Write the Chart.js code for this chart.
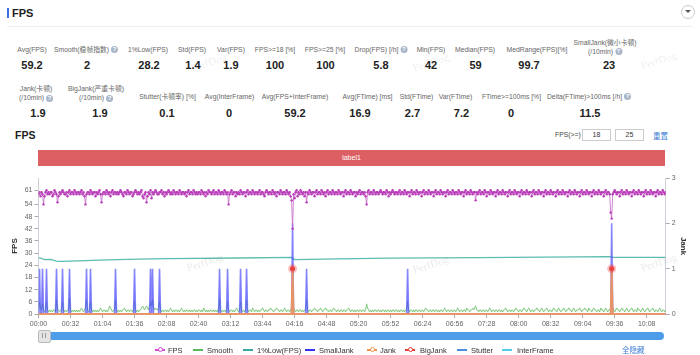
<!DOCTYPE html>
<html><head><meta charset="utf-8">
<script src="https://cdn.jsdelivr.net/npm/chart.js@4.4.1/dist/chart.umd.min.js"></script>
<style>
html,body{margin:0;padding:0;background:#fff;}
body{width:700px;height:355px;position:relative;overflow:hidden;font-family:"Liberation Sans",Arial,"Noto Sans CJK SC",sans-serif;}
.abs{position:absolute;}
.c{position:absolute;transform:translateX(-50%);white-space:nowrap;text-align:center;}
.lbl{font-size:6.8px;color:#666;line-height:9px;}
.val{font-size:11px;font-weight:bold;color:#222;line-height:14px;}
.q{display:inline-block;width:7px;height:7px;border-radius:50%;background:#a8b6c8;color:#fff;font-size:6px;line-height:7px;text-align:center;vertical-align:middle;margin-left:2px;font-weight:bold;}
.wm{position:absolute;font-family:"Liberation Serif","DejaVu Serif",serif;font-size:11px;color:rgba(0,0,0,0.09);transform:rotate(-18deg);white-space:nowrap;}
.lg{position:absolute;top:346px;font-size:7.5px;color:#333;line-height:9px;white-space:nowrap;}
.mk{position:absolute;top:349px;width:10px;height:2px;}
.ring{position:absolute;top:-2px;left:2.5px;width:3px;height:3px;border-radius:50%;background:#fff;border:1px solid;}
</style></head>
<body>
<!-- header -->
<div class="abs" style="left:7px;top:8px;width:2px;height:10px;background:#3b6fe0"></div>
<div class="abs" style="left:12px;top:7px;font-size:11px;font-weight:bold;color:#222">FPS</div>
<div class="abs" style="left:7px;top:26px;width:686px;height:1px;background:#eee"></div>
<div class="abs" style="left:681px;top:5px;width:12px;height:12px;border:1px solid #ccc;border-radius:50%"></div>
<div class="abs" style="left:685px;top:10px;width:0;height:0;border-left:3px solid transparent;border-right:3px solid transparent;border-top:3px solid #555"></div>

<!-- stats row 1 -->
<div class="c lbl" style="left:32px;top:44.5px">Avg(FPS)</div>
<div class="c lbl" style="left:86px;top:44.5px">Smooth(稳帧指数)<span class="q">?</span></div>
<div class="c lbl" style="left:148px;top:44.5px">1%Low(FPS)</div>
<div class="c lbl" style="left:192px;top:44.5px">Std(FPS)</div>
<div class="c lbl" style="left:231px;top:44.5px">Var(FPS)</div>
<div class="c lbl" style="left:275px;top:44.5px">FPS&gt;=18 [%]</div>
<div class="c lbl" style="left:325px;top:44.5px">FPS&gt;=25 [%]</div>
<div class="c lbl" style="left:381px;top:44.5px">Drop(FPS) [/h]<span class="q">?</span></div>
<div class="c lbl" style="left:431px;top:44.5px">Min(FPS)</div>
<div class="c lbl" style="left:475px;top:44.5px">Median(FPS)</div>
<div class="c lbl" style="left:537px;top:44.5px">MedRange(FPS)[%]</div>
<div class="c lbl" style="left:605px;top:37.5px">SmallJank(微小卡顿)<br>(/10min)<span class="q">?</span></div>

<div class="c val" style="left:32px;top:58px">59.2</div>
<div class="c val" style="left:87px;top:58px">2</div>
<div class="c val" style="left:149px;top:58px">28.2</div>
<div class="c val" style="left:193px;top:58px">1.4</div>
<div class="c val" style="left:231px;top:58px">1.9</div>
<div class="c val" style="left:275px;top:58px">100</div>
<div class="c val" style="left:325.5px;top:58px">100</div>
<div class="c val" style="left:381px;top:58px">5.8</div>
<div class="c val" style="left:431px;top:58px">42</div>
<div class="c val" style="left:475.5px;top:58px">59</div>
<div class="c val" style="left:529px;top:58px">99.7</div>
<div class="c val" style="left:609px;top:58px">23</div>

<!-- stats row 2 -->
<div class="c lbl" style="left:36px;top:84px">Jank(卡顿)<br>(/10min)<span class="q">?</span></div>
<div class="c lbl" style="left:96px;top:84px">BigJank(严重卡顿)<br>(/10min)<span class="q">?</span></div>
<div class="c lbl" style="left:167.5px;top:91.5px">Stutter(卡顿率) [%]</div>
<div class="c lbl" style="left:229.5px;top:91.5px">Avg(InterFrame)</div>
<div class="c lbl" style="left:295px;top:91.5px">Avg(FPS+InterFrame)</div>
<div class="c lbl" style="left:367.5px;top:91.5px">Avg(FTime) [ms]</div>
<div class="c lbl" style="left:416.5px;top:91.5px">Std(FTime)</div>
<div class="c lbl" style="left:455.5px;top:91.5px">Var(FTime)</div>
<div class="c lbl" style="left:511.5px;top:91.5px">FTime&gt;=100ms [%]</div>
<div class="c lbl" style="left:589px;top:91.5px">Delta(FTime)&gt;100ms [/h]<span class="q">?</span></div>

<div class="c val" style="left:38px;top:106px">1.9</div>
<div class="c val" style="left:100px;top:106px">1.9</div>
<div class="c val" style="left:167px;top:106px">0.1</div>
<div class="c val" style="left:229px;top:106px">0</div>
<div class="c val" style="left:295px;top:106px">59.2</div>
<div class="c val" style="left:360px;top:106px">16.9</div>
<div class="c val" style="left:412.5px;top:106px">2.7</div>
<div class="c val" style="left:461.5px;top:106px">7.2</div>
<div class="c val" style="left:511px;top:106px">0</div>
<div class="c val" style="left:590px;top:106px">11.5</div>

<!-- chart header -->
<div class="abs" style="left:15px;top:129px;font-size:10.5px;font-weight:bold;color:#222">FPS</div>
<div class="abs" style="left:555px;top:131px;font-size:6.8px;color:#444">FPS(&gt;=)</div>
<div class="abs" style="left:582px;top:129px;width:27px;height:10px;border:1px solid #ccc;font-size:7px;line-height:10px;text-align:center;color:#333">18</div>
<div class="abs" style="left:615px;top:129px;width:27px;height:10px;border:1px solid #ccc;font-size:7px;line-height:10px;text-align:center;color:#333">25</div>
<div class="abs" style="left:653px;top:130px;font-size:7.5px;color:#3a7bd5">重置</div>
<div class="abs" style="left:38px;top:150px;width:627px;height:16px;background:#dc5f64;color:#fff;font-size:7px;line-height:16px;text-align:center">label1</div>

<canvas id="c" width="700" height="164" style="position:absolute;left:0;top:170px;"></canvas>

<!-- data zoom slider -->
<div class="abs" style="left:50px;top:332px;width:614px;height:8px;background:#4d9de8;border-radius:0 4px 4px 0"></div>
<div class="abs" style="left:38px;top:330px;width:11px;height:11px;background:#e4e4e4;border:1px solid #bbb;border-radius:2px"></div>
<div class="abs" style="left:42px;top:333px;width:1px;height:5px;background:#999"></div>
<div class="abs" style="left:45px;top:333px;width:1px;height:5px;background:#999"></div>

<!-- legend -->
<div class="mk" style="left:155px;background:#d04ad0"><div class="ring" style="border-color:#d04ad0"></div></div><div class="lg" style="left:168px">FPS</div>
<div class="mk" style="left:193px;background:#5cb85c"></div><div class="lg" style="left:207px">Smooth</div>
<div class="mk" style="left:243px;background:#3aa79c"></div><div class="lg" style="left:257px">1%Low(FPS)</div>
<div class="mk" style="left:305px;background:#3535f5"></div><div class="lg" style="left:319px">SmallJank</div>
<div class="mk" style="left:367px;background:#f39248"><div class="ring" style="border-color:#f39248"></div></div><div class="lg" style="left:380px">Jank</div>
<div class="mk" style="left:405px;background:#e53935"><div class="ring" style="border-color:#e53935"></div></div><div class="lg" style="left:420px">BigJank</div>
<div class="mk" style="left:457px;background:#4a8fe0"></div><div class="lg" style="left:471px">Stutter</div>
<div class="mk" style="left:502px;background:#4fd0e6"></div><div class="lg" style="left:517px">InterFrame</div>
<div class="lg" style="left:622px;color:#3a7bd5">全隐藏</div>

<!-- watermarks -->
<div class="wm" style="left:190px;top:56px">PerfDog</div>
<div class="wm" style="left:412px;top:56px">PerfDog</div>
<div class="wm" style="left:640px;top:54px">PerfDog</div>
<div class="wm" style="left:186px;top:256px">PerfDog</div>
<div class="wm" style="left:412px;top:258px">PerfDog</div>
<div class="wm" style="left:640px;top:256px">PerfDog</div>

<script>
// ---- data (one sample per second, 00:00 .. 10:27) ----
const fps = [
59,60,58,60,59,54,58,60,61,59,60,59,60,60,58,59,61,60,59,55,
58,60,59,60,61,60,59,59,60,58,60,61,59,60,60,59,61,60,59,60,
60,59,60,61,59,60,58,54,59,60,60,59,61,60,59,60,60,58,60,59,
60,61,59,55,59,60,60,59,61,60,59,60,58,60,61,59,60,60,59,60,
59,60,61,60,59,58,60,60,59,61,60,59,60,60,58,59,60,61,60,59,
60,59,60,61,58,57,59,60,55,58,60,59,61,57,60,59,60,61,60,59,
59,60,60,61,59,60,58,60,59,60,61,60,59,60,59,61,60,59,60,60,
59,61,60,59,60,60,59,60,58,60,61,59,60,60,59,61,60,59,60,59,
60,60,59,61,60,59,60,58,60,59,61,60,60,59,60,61,59,60,60,59,
61,60,59,60,60,59,61,60,59,60,54,59,60,61,59,60,60,58,60,59,
60,59,61,60,59,60,60,58,60,61,59,60,60,59,61,60,59,60,60,59,
60,61,59,60,60,59,58,60,61,60,59,60,60,59,61,60,59,60,58,60,
60,59,61,60,59,60,60,59,61,60,59,60,58,56,42,59,57,60,61,58,
60,59,61,60,59,60,58,60,55,60,59,61,60,59,60,60,58,60,61,59,
60,60,59,61,60,59,60,58,60,61,59,60,60,59,61,60,59,60,60,59,
61,60,59,60,60,58,60,61,59,60,60,59,61,60,59,60,60,58,60,59,
60,61,59,60,60,59,60,58,54,60,61,59,60,60,59,61,60,59,60,60,
59,60,61,60,59,60,60,59,61,60,58,60,59,60,61,60,59,60,60,59,
60,61,59,60,60,59,61,60,59,60,60,58,60,61,59,60,60,59,61,60,
59,60,60,58,60,61,59,60,60,59,61,60,59,60,60,58,60,61,59,60,
60,59,61,60,59,60,60,58,60,61,59,60,60,59,61,60,59,60,60,59,
61,60,59,60,60,58,60,61,59,60,60,59,61,60,59,60,60,56,60,59,
60,61,59,60,60,59,61,60,58,60,60,59,61,60,59,60,60,58,60,61,
59,60,60,59,61,60,59,60,60,58,60,61,59,60,60,59,61,60,59,60,
60,58,60,61,59,60,60,59,61,60,59,60,60,58,60,61,59,60,60,59,
61,60,59,60,60,58,60,61,59,60,60,59,61,60,59,60,60,58,60,61,
59,60,60,59,61,60,59,60,60,58,60,61,59,60,60,59,61,60,59,60,
60,58,60,61,59,60,60,59,61,60,59,60,60,58,60,61,59,60,60,59,
61,60,59,60,60,58,60,61,59,60,60,59,50,47,59,60,61,60,59,60,
60,58,60,61,59,60,60,59,61,60,59,60,60,58,60,61,59,60,60,59,
61,60,59,60,60,58,60,61,59,60,60,59,61,60,59,60,60,58,60,61,
59,60,60,59,61,60,59,60
];
const smooth = [
2,6,3,2,5,2,1,2,6,2,1,2,1,2,1,2,2,1,7,2,
2,1,2,2,6,2,1,2,1,2,2,8,2,1,2,1,2,1,2,1,
2,1,2,3,2,1,2,3,7,2,1,2,6,2,1,2,1,2,1,2,
1,2,3,2,1,2,2,1,2,1,2,4,3,2,1,2,2,7,2,1,
2,1,2,1,2,2,3,2,1,2,2,1,2,2,1,2,6,2,1,2,
1,2,2,3,4,3,2,3,4,3,2,4,6,4,7,3,2,3,2,2,
3,6,2,1,2,1,2,2,1,2,1,2,3,2,1,2,1,2,2,1,
2,1,2,3,2,1,2,1,2,2,1,2,1,2,1,2,2,1,2,1,
2,2,1,2,1,3,2,1,2,1,2,1,2,2,1,2,1,2,1,2,
1,8,2,1,2,1,2,1,2,6,2,1,2,2,1,2,1,2,3,2,
1,2,6,2,1,2,1,2,7,2,1,2,2,1,3,2,1,2,2,1,
2,1,2,2,3,2,1,2,2,1,2,2,3,2,2,1,2,2,3,2,
2,1,2,2,1,2,3,2,1,2,2,1,2,3,6,3,2,1,2,2,
1,2,2,1,2,1,2,2,7,2,1,2,2,1,2,2,3,2,2,1,
2,2,3,2,1,2,2,3,2,2,1,2,2,1,2,3,2,2,1,2,
2,1,2,2,1,2,2,1,2,2,3,2,1,2,2,1,2,1,2,2,
1,2,2,1,2,2,1,2,5,3,2,1,2,1,2,1,2,2,1,2,
2,1,2,1,2,2,1,2,1,2,2,1,2,1,2,2,1,2,2,1,
2,1,2,2,1,2,1,2,2,6,2,1,2,2,1,2,1,2,2,1,
2,2,1,2,2,1,2,3,2,2,1,2,2,1,2,2,1,2,2,1,
2,1,2,2,1,2,3,2,1,2,2,1,2,2,1,2,2,1,2,3,
2,1,2,2,1,2,2,1,3,2,2,1,2,2,3,2,3,4,2,2,
1,2,2,1,2,2,1,2,2,1,2,3,2,1,2,2,1,2,2,1,
2,2,1,2,1,2,2,3,2,1,2,2,1,2,2,1,2,3,2,2,
1,2,2,1,2,3,2,2,1,2,3,2,1,2,2,1,2,2,3,2,
2,1,2,3,2,1,2,2,3,2,1,2,2,1,2,3,2,2,1,2,
3,2,1,2,2,3,2,1,2,2,3,2,2,1,2,3,2,1,2,2,
2,3,2,1,2,2,3,2,2,1,3,2,2,1,2,3,2,2,1,2,
2,1,3,2,2,1,2,3,2,1,2,2,3,6,3,2,1,2,3,2,
2,1,2,3,2,2,1,2,3,2,1,2,2,3,2,1,2,2,1,3,
2,2,1,2,3,2,1,2,2,3,2,1,2,2,3,2,1,2,2,1,
2,3,2,1,2,2,1,2
];
// 1%Low(FPS): running value, sampled where it changes
const lowSec = [0,3,6,12,18,22,40,60,100,130,200,253,256,300,350,440,571,574,627];
const lowVal = [27.6,27.4,26.8,26.9,26.0,25.9,26.2,26.5,27.0,27.3,27.6,27.9,26.8,27.2,27.5,27.8,28.3,27.9,27.9];
// events [second, count]; all other seconds are 0
const smallJankEvents = [[1,1],[4,1],[8,1],[18,1],[24,1],[31,1],[48,1],[52,1],[77,1],[96,1],[112,1],[114,1],[121,1],[181,1],[189,1],[202,1],[208,1],[254,2],[268,1],[369,1],[573,2]];
const jankEvents = [[254,1],[573,1]];
const bigJankEvents = [[254,1],[573,1]];
const stutterEvents = [];
const interFrameEvents = [];
// axis ticks
const xTickSeconds = [0,32,64,96,128,160,192,224,256,288,320,352,384,416,448,480,512,544,576,608];
const xTickLabels = ['00:00','00:32','01:04','01:36','02:08','02:40','03:12','03:44','04:16','04:48','05:20','05:52','06:24','06:56','07:28','08:00','08:32','09:04','09:36','10:08'];
const yLeftTicks = [0,6,12,18,24,30,36,42,48,54,61];
const yRightTicks = [0,1,2,3];

// ---- build ----
const lastSec = fps.length - 1;
const xy = arr => arr.map((v,i)=>({x:i,y:v}));
function fromEvents(ev){ const a = fps.map(()=>0); ev.forEach(([t,v])=>{a[t]=v;}); return a; }
const bigJank = fromEvents(bigJankEvents);

const tickFont = {family:'"Liberation Sans", Arial, sans-serif', size:7};
new Chart(document.getElementById('c'), {
  type:'line',
  data:{datasets:[
    {label:'BigJank', data:xy(bigJank), yAxisID:'y1', order:0, showLine:false, borderColor:'#e53935', borderWidth:0, clip:6,
     pointRadius:ctx=>bigJank[ctx.dataIndex]>0?2.6:0, pointBackgroundColor:'#e53935', pointBorderColor:'rgba(240,90,90,0.35)', pointBorderWidth:4},
    {label:'FPS', data:xy(fps), yAxisID:'y', order:1, borderColor:'rgba(200,110,200,0.85)', borderWidth:1,
     pointRadius:1.2, pointBackgroundColor:'#b93cb9', pointBorderWidth:0},
    {label:'Jank', data:xy(fromEvents(jankEvents)), yAxisID:'y1', order:2, borderColor:'rgba(243,150,90,0.9)', borderWidth:2, pointRadius:0, clip:4},
    {label:'SmallJank', data:xy(fromEvents(smallJankEvents)), yAxisID:'y1', order:3, borderColor:'rgba(70,70,250,0.65)', borderWidth:1.6,
     fill:'origin', backgroundColor:'rgba(120,120,255,0.3)', pointRadius:0},
    {label:'1%Low(FPS)', data:lowSec.map((s,i)=>({x:s,y:lowVal[i]})), yAxisID:'y', order:4, borderColor:'#5cbdb0', borderWidth:1.3, pointRadius:0},
    {label:'Smooth', data:xy(smooth), yAxisID:'y', order:5, borderColor:'#7cc77a', borderWidth:1, pointRadius:0},
    {label:'Stutter', data:xy(fromEvents(stutterEvents)), yAxisID:'y', order:6, borderColor:'#4a8fe0', borderWidth:1, pointRadius:0, clip:4},
    {label:'InterFrame', data:xy(fromEvents(interFrameEvents)), yAxisID:'y', order:7, borderColor:'#4fd0e6', borderWidth:1, pointRadius:0, clip:4}
  ]},
  options:{
    responsive:false, animation:false, devicePixelRatio:1, parsing:true,
    layout:{padding:{top:8,left:0,right:0,bottom:0}},
    plugins:{legend:{display:false}, tooltip:{enabled:false}},
    elements:{line:{tension:0}},
    scales:{
      x:{type:'linear', min:0, max:lastSec,
         afterBuildTicks:s=>{s.ticks = xTickSeconds.map(v=>({value:v}));},
         afterFit:s=>{s.height = 20;},
         ticks:{autoSkip:false, maxRotation:0, color:'#666', font:tickFont, padding:2,
                callback:v=>xTickLabels[xTickSeconds.indexOf(v)]},
         grid:{drawOnChartArea:false, tickLength:4, color:'#aaa'}, border:{color:'#ccc'}},
      y:{position:'left', min:0, max:67,
         afterBuildTicks:s=>{s.ticks = yLeftTicks.map(v=>({value:v}));},
         afterFit:s=>{s.width = 38.5;},
         ticks:{color:'#666', font:tickFont, padding:2},
         grid:{drawOnChartArea:false, tickLength:4, color:'#aaa'}, border:{color:'#cdd0d8'},
         title:{display:true, text:'FPS', color:'#333', font:{family:'"Liberation Sans", Arial', size:8, weight:'bold'}, padding:{top:10,bottom:0}}},
      y1:{position:'right', min:0, max:3,
         afterBuildTicks:s=>{s.ticks = yRightTicks.map(v=>({value:v}));},
         afterFit:s=>{s.width = 34.3;},
         ticks:{color:'#666', font:tickFont, padding:2},
         grid:{drawOnChartArea:false, tickLength:4, color:'#aaa'}, border:{color:'#cdd0d8'},
         title:{display:true, text:'Jank', color:'#333', font:{family:'"Liberation Sans", Arial', size:8, weight:'bold'}, padding:{top:12,bottom:0}}}
    }
  }
});
</script>
</body></html>
